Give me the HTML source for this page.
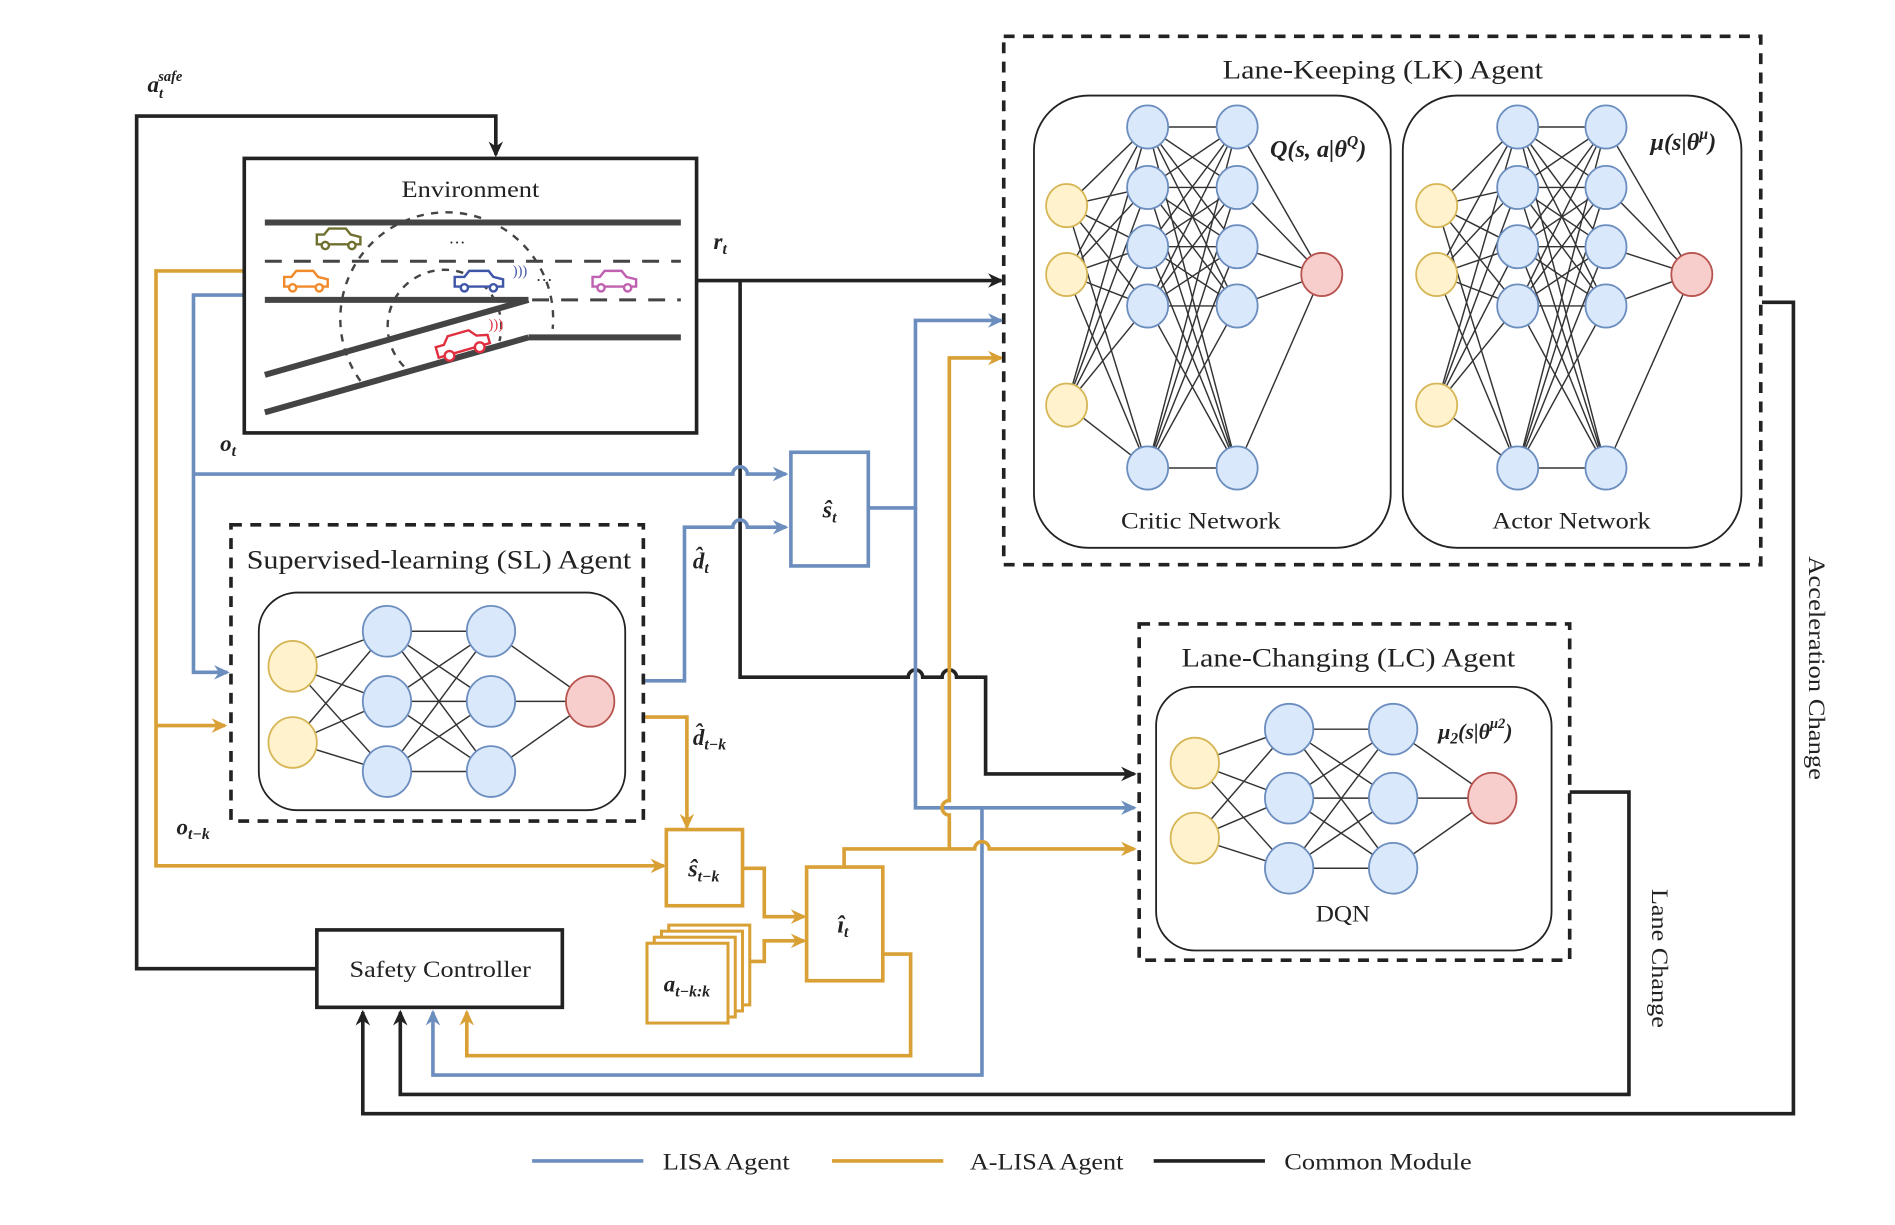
<!DOCTYPE html>
<html><head><meta charset="utf-8"><style>
html,body{margin:0;padding:0;background:#fff;}
svg{display:block;}
text{font-family:"Liberation Serif",serif;fill:#222;}
.m{font-style:italic;font-weight:bold;}
</style></head><body>
<svg id="s" width="1895" height="1225" viewBox="0 0 1567 1013" preserveAspectRatio="none" xmlns="http://www.w3.org/2000/svg">
<defs>
<marker id="ak" markerWidth="14" markerHeight="14" refX="11" refY="7" orient="auto" markerUnits="userSpaceOnUse"><path d="M0,1 L13,7 L0,13 L4,7z" fill="#222"/></marker>
<marker id="ab" markerWidth="14" markerHeight="14" refX="11" refY="7" orient="auto" markerUnits="userSpaceOnUse"><path d="M0,1 L13,7 L0,13 L4,7z" fill="#6c8ebf"/></marker>
<marker id="ao" markerWidth="14" markerHeight="14" refX="11" refY="7" orient="auto" markerUnits="userSpaceOnUse"><path d="M0,1 L13,7 L0,13 L4,7z" fill="#d9a035"/></marker>
</defs>
<g fill="none" stroke-width="3">
<path d="M262,801 H113 V96 H410 V128" stroke="#222" marker-end="url(#ak)"/>
<path d="M576,232 H828" stroke="#222" marker-end="url(#ak)"/>
<path d="M612,232 V560 H751 a6,6 0 0 1 12,0 H779 a6,6 0 0 1 12,0 H815 V640 H938" stroke="#222" marker-end="url(#ak)"/>
<path d="M1298,655 H1347 V905 H331 V837" stroke="#222" marker-end="url(#ak)"/>
<path d="M1457,250 H1483 V921 H300 V837" stroke="#222" marker-end="url(#ak)"/>
<path d="M202,244 H160 V556 H188" stroke="#6c8ebf" marker-end="url(#ab)"/>
<path d="M160,392 H606 a6,6 0 0 1 12,0 H650" stroke="#6c8ebf" marker-end="url(#ab)"/>
<path d="M532,563 H566 V436 H606 a6,6 0 0 1 12,0 H650" stroke="#6c8ebf" marker-end="url(#ab)"/>
<path d="M718,420 H757 V265 H828" stroke="#6c8ebf" marker-end="url(#ab)"/>
<path d="M757,420 V668 H938" stroke="#6c8ebf" marker-end="url(#ab)"/>
<path d="M812,668 V889 H358 V837" stroke="#6c8ebf" marker-end="url(#ab)"/>
<path d="M202,224 H129 V716 H549" stroke="#d9a035" marker-end="url(#ao)"/>
<path d="M129,600 H186" stroke="#d9a035" marker-end="url(#ao)"/>
<path d="M532,593 H568 V684" stroke="#d9a035" marker-end="url(#ao)"/>
<path d="M614,718 H632 V758 H665" stroke="#d9a035" marker-end="url(#ao)"/>
<path d="M620,795 H632 V778 H665" stroke="#d9a035" marker-end="url(#ao)"/>
<path d="M698,717 V702 H806 a6,6 0 0 1 12,0 H938" stroke="#d9a035" marker-end="url(#ao)"/>
<path d="M785,702 V674 a6,6 0 0 1 0,-12 V296 H828" stroke="#d9a035" marker-end="url(#ao)"/>
<path d="M730,789 H753 V873 H386 V837" stroke="#d9a035" marker-end="url(#ao)"/>
</g>
<text x="122" y="76" font-size="19" class="m">a<tspan font-size="12" dy="5">t</tspan><tspan font-size="12" dx="-4" dy="-14">safe</tspan></text>
<text x="590" y="206" font-size="19" class="m">r<tspan font-size="13" dy="4">t</tspan></text>
<text x="182" y="373" font-size="19" class="m">o<tspan font-size="13" dy="4">t</tspan></text>
<text x="146" y="690" font-size="19" class="m">o<tspan font-size="13" dy="4">t−k</tspan></text>
<text x="573" y="470" font-size="19" class="m">d̂<tspan font-size="13" dy="4">t</tspan></text>
<text x="573" y="616" font-size="19" class="m">d̂<tspan font-size="13" dy="4">t−k</tspan></text>
<rect x="202" y="131" width="374" height="227" fill="#fff" stroke="#222" stroke-width="3"/>
<text x="332" y="163" font-size="19" textLength="114" lengthAdjust="spacingAndGlyphs">Environment</text>
<g stroke="#444" stroke-width="5" fill="none">
<line x1="219" y1="184" x2="563" y2="184"/>
<line x1="219" y1="248" x2="437" y2="248"/>
<line x1="437" y1="279" x2="563" y2="279"/>
<line x1="219" y1="310" x2="437" y2="248"/>
<line x1="219" y1="341" x2="437" y2="279"/>
</g>
<g stroke="#444" stroke-width="2.5" fill="none" stroke-dasharray="14,10">
<line x1="219" y1="216" x2="563" y2="216"/>
<line x1="440" y1="248" x2="563" y2="248"/>
</g>
<g stroke="#444" stroke-width="2" fill="none" stroke-dasharray="6,6">
<path d="M298,315 A88,88 0 1 1 457,272"/>
<path d="M334,303 A47,47 0 1 1 413,282"/>
</g>
<text x="378" y="205" font-size="14" text-anchor="middle">···</text>
<text x="450" y="236" font-size="14" text-anchor="middle">···</text>
<g fill="#fff" stroke-width="2">
<g stroke="#6f6f30"><path d="M262,202 h36 v-6 l-8,-2 -4,-5 h-14 l-4,5 h-6z"/><circle cx="269" cy="203" r="3"/><circle cx="291" cy="203" r="3"/></g>
<g stroke="#f08a2a"><path d="M235,237 h36 v-6 l-8,-2 -4,-5 h-14 l-4,5 h-6z"/><circle cx="242" cy="238" r="3"/><circle cx="264" cy="238" r="3"/></g>
<g stroke="#3e55a8"><path d="M376,237 h40 v-6 l-8,-2 -4,-5 h-16 l-4,5 h-8z"/><circle cx="384" cy="238" r="3"/><circle cx="408" cy="238" r="3"/></g>
<g stroke="#c060b0"><path d="M490,237 h36 v-6 l-8,-2 -4,-5 h-14 l-4,5 h-6z"/><circle cx="497" cy="238" r="3"/><circle cx="519" cy="238" r="3"/></g>
<g stroke="#e03040" transform="rotate(-16 382 283)"><path d="M360,290 h44 v-7 l-9,-2 -5,-6 h-18 l-5,6 h-7z"/><circle cx="369" cy="291" r="4"/><circle cx="395" cy="291" r="4"/></g>
</g>
<text x="424" y="228" font-size="12" style="fill:#3e55a8">)))</text>
<text x="404" y="272" font-size="12" style="fill:#e03040">)))</text>
<rect x="654" y="374" width="64" height="94" fill="#fff" stroke="#6c8ebf" stroke-width="3"/>
<text x="686" y="428" font-size="20" class="m" text-anchor="middle">ŝ<tspan font-size="13" dy="4">t</tspan></text>
<rect x="551" y="686" width="63" height="63" fill="#fff" stroke="#d9a035" stroke-width="3"/>
<text x="582" y="725" font-size="20" class="m" text-anchor="middle">ŝ<tspan font-size="13" dy="4">t−k</tspan></text>
<rect x="667" y="717" width="63" height="94" fill="#fff" stroke="#d9a035" stroke-width="3"/>
<text x="697" y="771" font-size="20" class="m" text-anchor="middle">î<tspan font-size="13" dy="4">t</tspan></text>
<g fill="#fff" stroke="#d9a035" stroke-width="2.5">
<rect x="553" y="765" width="67" height="66"/>
<rect x="547" y="770" width="67" height="66"/>
<rect x="541" y="775" width="67" height="66"/>
<rect x="535" y="780" width="67" height="66"/>
</g>
<text x="568" y="820" font-size="19" class="m" text-anchor="middle">a<tspan font-size="13" dy="4">t−k:k</tspan></text>
<rect x="262" y="769" width="203" height="64" fill="#fff" stroke="#222" stroke-width="3"/>
<text x="289" y="808" font-size="19" textLength="150" lengthAdjust="spacingAndGlyphs">Safety Controller</text>
<rect x="830" y="30" width="626" height="437" fill="none" stroke="#222" stroke-width="3" stroke-dasharray="9,7"/>
<text x="1011" y="65" font-size="22" textLength="265" lengthAdjust="spacingAndGlyphs">Lane-Keeping (LK) Agent</text>
<rect x="855" y="79" width="295" height="374" rx="45" fill="#fff" stroke="#222" stroke-width="1.5"/>
<rect x="1160" y="79" width="280" height="374" rx="45" fill="#fff" stroke="#222" stroke-width="1.5"/>
<text x="927" y="437" font-size="19" textLength="132" lengthAdjust="spacingAndGlyphs">Critic Network</text>
<text x="1234" y="437" font-size="19" textLength="131" lengthAdjust="spacingAndGlyphs">Actor Network</text>
<text x="1090" y="130" font-size="20" class="m" text-anchor="middle">Q(s, a|θ<tspan font-size="13" dy="-9">Q</tspan><tspan dy="9">)</tspan></text>
<text x="1392" y="124" font-size="20" class="m" text-anchor="middle">μ(s|θ<tspan font-size="13" dy="-9">μ</tspan><tspan dy="9">)</tspan></text>
<rect x="191" y="434" width="341" height="245" fill="none" stroke="#222" stroke-width="3" stroke-dasharray="9,7"/>
<text x="204" y="470" font-size="22" textLength="318" lengthAdjust="spacingAndGlyphs">Supervised-learning (SL) Agent</text>
<rect x="214" y="490" width="303" height="180" rx="32" fill="#fff" stroke="#222" stroke-width="1.5"/>
<rect x="942" y="516" width="356" height="278" fill="none" stroke="#222" stroke-width="3" stroke-dasharray="9,7"/>
<text x="977" y="551" font-size="22" textLength="276" lengthAdjust="spacingAndGlyphs">Lane-Changing (LC) Agent</text>
<rect x="956" y="568" width="327" height="218" rx="32" fill="#fff" stroke="#222" stroke-width="1.5"/>
<text x="1088" y="762" font-size="19" textLength="45" lengthAdjust="spacingAndGlyphs">DQN</text>
<text x="1220" y="611" font-size="18" class="m" text-anchor="middle">μ<tspan font-size="13" dy="4">2</tspan><tspan dy="-4">(s|θ</tspan><tspan font-size="12" dy="-9">μ2</tspan><tspan dy="9">)</tspan></text>
<g id="nets"></g>
<text transform="translate(1496,460) rotate(90)" font-size="19" textLength="185" lengthAdjust="spacingAndGlyphs">Acceleration Change</text>
<text transform="translate(1366,735) rotate(90)" font-size="19" textLength="115" lengthAdjust="spacingAndGlyphs">Lane Change</text>
<line x1="440" y1="960" x2="532" y2="960" stroke="#6c8ebf" stroke-width="3"/>
<text x="548" y="967" font-size="19" textLength="105" lengthAdjust="spacingAndGlyphs">LISA Agent</text>
<line x1="688" y1="960" x2="780" y2="960" stroke="#d9a035" stroke-width="3"/>
<text x="802" y="967" font-size="19" textLength="127" lengthAdjust="spacingAndGlyphs">A-LISA Agent</text>
<line x1="954" y1="960" x2="1046" y2="960" stroke="#222" stroke-width="3"/>
<text x="1062" y="967" font-size="19" textLength="155" lengthAdjust="spacingAndGlyphs">Common Module</text>
</svg>
<script>
var g=document.getElementById('nets');
function net(layers,r){
 var h='';
 for(var i=0;i<layers.length-1;i++){var A=layers[i],B=layers[i+1];
  A.ys.forEach(function(a){B.ys.forEach(function(b){h+='<line x1="'+A.x+'" y1="'+a+'" x2="'+B.x+'" y2="'+b+'" stroke="#333" stroke-width="1.2"/>';});});}
 layers.forEach(function(L){L.ys.forEach(function(y){h+='<ellipse cx="'+L.x+'" cy="'+y+'" rx="'+r+'" ry="'+(r*1.05)+'" fill="'+L.f+'" stroke="'+L.s+'" stroke-width="1.5"/>';});});
 g.insertAdjacentHTML('beforeend',h);
}
var Y={f:'#fff2cc',s:'#d6b656'},B={f:'#dae8fc',s:'#6c8ebf'},R={f:'#f8cecc',s:'#b85450'};
function L(x,ys,c){return {x:x,ys:ys,f:c.f,s:c.s};}
var h5=[105,155,204,253,387];
net([L(882,[170,227,335],Y),L(949,h5,B),L(1023,h5,B),L(1093,[227],R)],17);
net([L(1188,[170,227,335],Y),L(1255,h5,B),L(1328,h5,B),L(1399,[227],R)],17);
net([L(242,[551,614],Y),L(320,[522,580,638],B),L(406,[522,580,638],B),L(488,[580],R)],20);
net([L(988,[631,693],Y),L(1066,[603,660,718],B),L(1152,[603,660,718],B),L(1234,[660],R)],20);
</script>
</body></html>
